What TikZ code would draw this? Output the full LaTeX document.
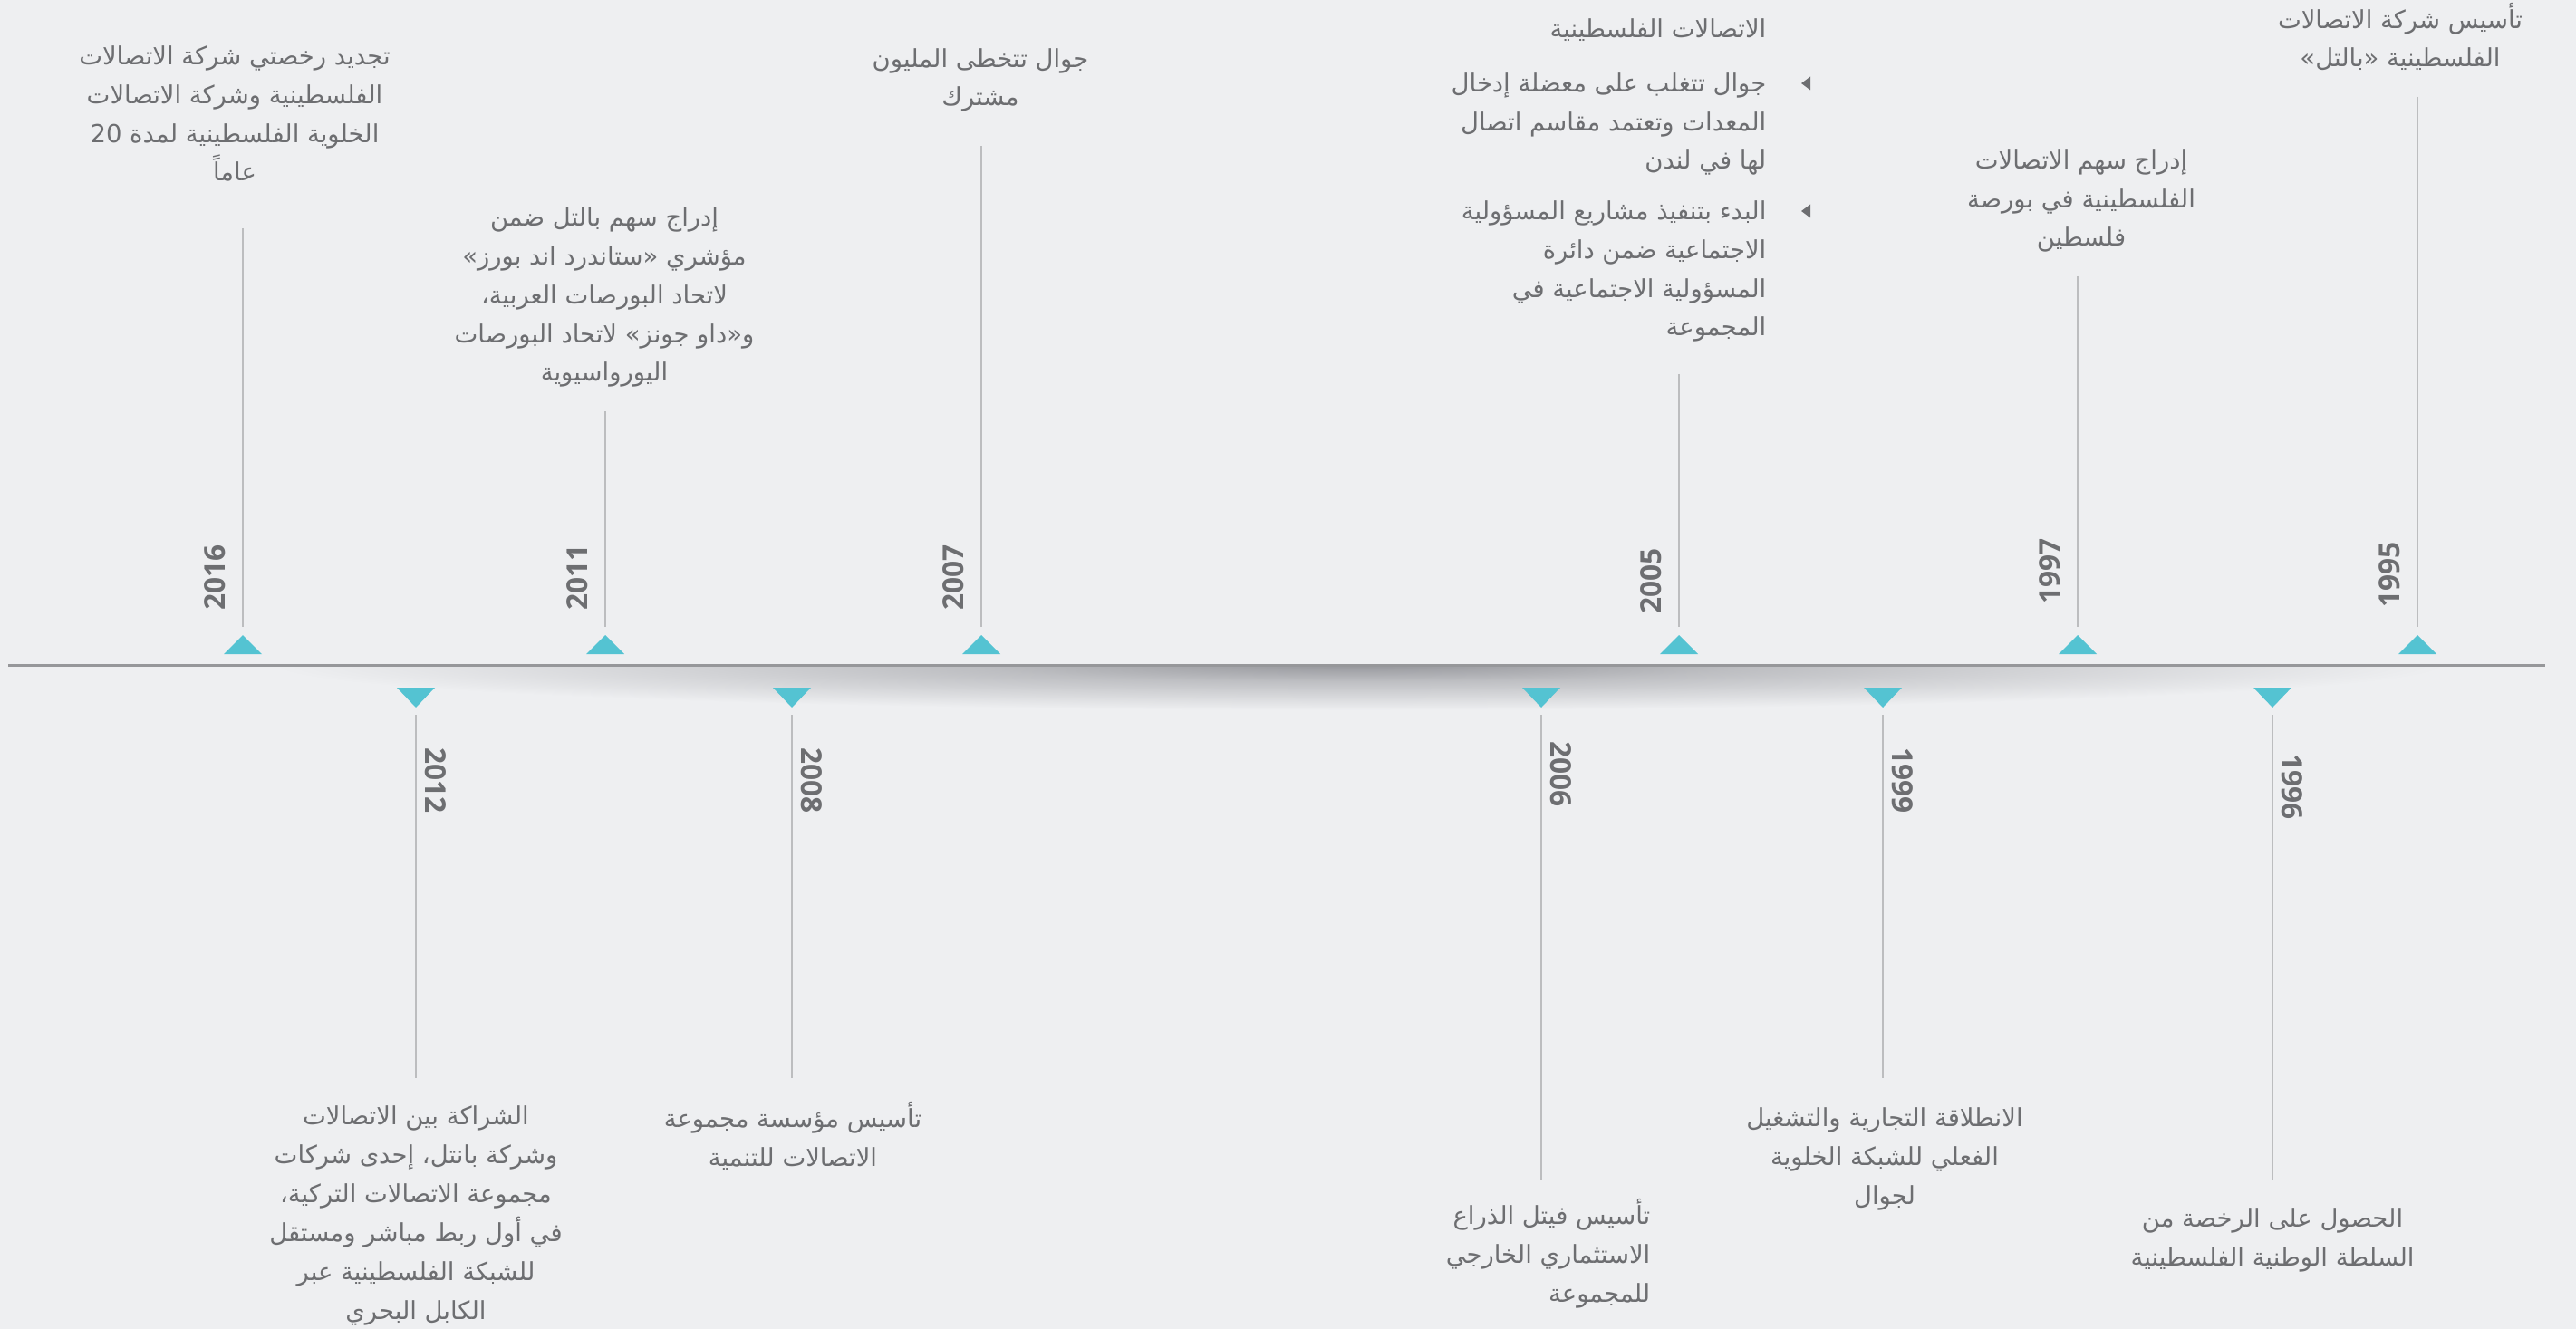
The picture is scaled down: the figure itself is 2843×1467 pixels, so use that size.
\documentclass[tikz,border=0pt]{standalone}
\usepackage{fontspec}
\TeXXeTstate=1
\newfontfamily\arabicfont[Script=Arabic]{DejaVu Sans}
\newfontfamily\yearfont{Open Sans}
\newcommand\rtltext[1]{\beginR #1\endR}
\definecolor{bgc}{RGB}{238,239,241}
\definecolor{txtc}{RGB}{109,110,113}
\definecolor{stemc}{RGB}{188,189,191}
\definecolor{axisc}{RGB}{150,151,154}
\definecolor{markc}{RGB}{84,195,210}
\definecolor{shadowc}{RGB}{150,151,156}
\pgfdeclareradialshading{axisshadow}{\pgfpoint{0bp}{0bp}}{color(0bp)=(shadowc); color(9bp)=(shadowc!55!bgc); color(25bp)=(bgc); color(50bp)=(bgc)}
\tikzset{
    event/.style = {font=\arabicfont\fontsize{7.8}{12.2}\selectfont, text=txtc, align=center, inner sep=0pt, anchor=base},
    event_r/.style = {event, align=right, anchor=base east},
    year/.style = {font=\yearfont\bfseries\fontsize{9}{10}\selectfont, text=txtc, inner sep=0pt, anchor=west},
    year_up/.style = {year, rotate=90},
    year_down/.style = {year, rotate=-90},
    stem/.style = {draw=stemc, line width=0.02cm},
    up_stem/.style = {stem, shorten >=0.09cm},
    down_stem/.style = {stem, shorten <=0.08cm},
    axis/.style = {draw=axisc, line width=0.03cm},
    marker/.style = {fill=markc},
    bullet/.style = {fill=txtc}
}

\begin{document}
\begin{tikzpicture}[x=0.01cm, y=-0.01cm]
    \useasboundingbox (0,0) rectangle (2843,1467);
    \fill[bgc] (0,0) rectangle (2843,1467);

    % time axis (texts are placed by the baseline of their last line)
    \begin{scope}
        \clip (300,735) rectangle (2700,790);
        \shade[shading=axisshadow] (300,684) rectangle (2700,784);
    \end{scope}
    \coordinate (a0) at (9,734);
    \coordinate (a1) at (2809,734);
    \draw[axis] (a0) -- (a1);

    % ---- above the axis ----
    \coordinate (m16) at (268,701);
    \coordinate (s16) at (268,252);
    \fill[marker] (m16) -- ++(21,21) -- ++(-42,0) -- cycle;
    \draw[up_stem] (s16) -- (m16);
    \node[year_up] (y16) at (237,674) {2016};
    \node[event] (e16) at (259,200) {\rtltext{تجديد رخصتي شركة الاتصالات}\\\rtltext{الفلسطينية وشركة الاتصالات}\\\rtltext{الخلوية الفلسطينية لمدة \beginL 20\endL{}}\\\rtltext{عاماً}};

    \coordinate (m11) at (668,701);
    \coordinate (s11) at (668,454);
    \fill[marker] (m11) -- ++(21,21) -- ++(-42,0) -- cycle;
    \draw[up_stem] (s11) -- (m11);
    \node[year_up] (y11) at (637,674) {2011};
    \node[event] (e11) at (667,421) {\rtltext{إدراج سهم بالتل ضمن}\\\rtltext{مؤشري «ستاندرد اند بورز»}\\\rtltext{لاتحاد البورصات العربية،}\\\rtltext{و«داو جونز» لاتحاد البورصات}\\\rtltext{اليورواسيوية}};

    \coordinate (m07) at (1083,701);
    \coordinate (s07) at (1083,161);
    \fill[marker] (m07) -- ++(21,21) -- ++(-42,0) -- cycle;
    \draw[up_stem] (s07) -- (m07);
    \node[year_up] (y07) at (1052,674) {2007};
    \node[event] (e07) at (1082,117) {\rtltext{جوال تتخطى المليون}\\\rtltext{مشترك}};

    \coordinate (m05) at (1853,701);
    \coordinate (s05) at (1853,413);
    \fill[marker] (m05) -- ++(21,21) -- ++(-42,0) -- cycle;
    \draw[up_stem] (s05) -- (m05);
    \node[year_up] (y05) at (1822,678) {2005};
    \node[event_r] (e05a) at (1950,42) {\rtltext{الاتصالات الفلسطينية}};
    \node[event_r] (e05b) at (1950,187) {\rtltext{جوال تتغلب على معضلة إدخال}\\\rtltext{المعدات وتعتمد مقاسم اتصال}\\\rtltext{لها في لندن}};
    \node[event_r] (e05c) at (1950,371) {\rtltext{البدء بتنفيذ مشاريع المسؤولية}\\\rtltext{الاجتماعية ضمن دائرة}\\\rtltext{المسؤولية الاجتماعية في}\\\rtltext{المجموعة}};
    \coordinate (k05b) at (1988,92);
    \coordinate (k05c) at (1988,233);
    \fill[bullet] (k05b) -- ++(10,-7.5) -- ++(0,15) -- cycle;
    \fill[bullet] (k05c) -- ++(10,-7.5) -- ++(0,15) -- cycle;

    \coordinate (m97) at (2293,701);
    \coordinate (s97) at (2293,305);
    \fill[marker] (m97) -- ++(21,21) -- ++(-42,0) -- cycle;
    \draw[up_stem] (s97) -- (m97);
    \node[year_up] (y97) at (2262,667) {1997};
    \node[event] (e97) at (2297,272) {\rtltext{إدراج سهم الاتصالات}\\\rtltext{الفلسطينية في بورصة}\\\rtltext{فلسطين}};

    \coordinate (m95) at (2668,701);
    \coordinate (s95) at (2668,107);
    \fill[marker] (m95) -- ++(21,21) -- ++(-42,0) -- cycle;
    \draw[up_stem] (s95) -- (m95);
    \node[year_up] (y95) at (2637,671) {1995};
    \node[event] (e95) at (2649,74) {\rtltext{تأسيس شركة الاتصالات}\\\rtltext{الفلسطينية «بالتل»}};

    % ---- below the axis ----
    \coordinate (n12) at (459,781);
    \coordinate (d12) at (459,1190);
    \fill[marker] (n12) -- ++(21,-22) -- ++(-42,0) -- cycle;
    \draw[down_stem] (n12) -- (d12);
    \node[year_down] (y12) at (481,825) {2012};
    \node[event] (e12) at (459,1456) {\rtltext{الشراكة بين الاتصالات}\\\rtltext{وشركة بانتل، إحدى شركات}\\\rtltext{مجموعة الاتصالات التركية،}\\\rtltext{في أول ربط مباشر ومستقل}\\\rtltext{للشبكة الفلسطينية عبر}\\\rtltext{الكابل البحري}};

    \coordinate (n08) at (874,781);
    \coordinate (d08) at (874,1190);
    \fill[marker] (n08) -- ++(21,-22) -- ++(-42,0) -- cycle;
    \draw[down_stem] (n08) -- (d08);
    \node[year_down] (y08) at (896,825) {2008};
    \node[event] (e08) at (875,1287) {\rtltext{تأسيس مؤسسة مجموعة}\\\rtltext{الاتصالات للتنمية}};

    \coordinate (n06) at (1701,781);
    \coordinate (d06) at (1701,1303);
    \fill[marker] (n06) -- ++(21,-22) -- ++(-42,0) -- cycle;
    \draw[down_stem] (n06) -- (d06);
    \node[year_down] (y06) at (1723,818) {2006};
    \node[event_r] (e06) at (1822,1437) {\rtltext{تأسيس فيتل الذراع}\\\rtltext{الاستثماري الخارجي}\\\rtltext{للمجموعة}};

    \coordinate (n99) at (2078,781);
    \coordinate (d99) at (2078,1190);
    \fill[marker] (n99) -- ++(21,-22) -- ++(-42,0) -- cycle;
    \draw[down_stem] (n99) -- (d99);
    \node[year_down] (y99) at (2100,825) {1999};
    \node[event] (e99) at (2080,1329) {\rtltext{الانطلاقة التجارية والتشغيل}\\\rtltext{الفعلي للشبكة الخلوية}\\\rtltext{لجوال}};

    \coordinate (n96) at (2508,781);
    \coordinate (d96) at (2508,1303);
    \fill[marker] (n96) -- ++(21,-22) -- ++(-42,0) -- cycle;
    \draw[down_stem] (n96) -- (d96);
    \node[year_down] (y96) at (2530,832) {1996};
    \node[event] (e96) at (2508,1397) {\rtltext{الحصول على الرخصة من}\\\rtltext{السلطة الوطنية الفلسطينية}};
\end{tikzpicture}
\end{document}
